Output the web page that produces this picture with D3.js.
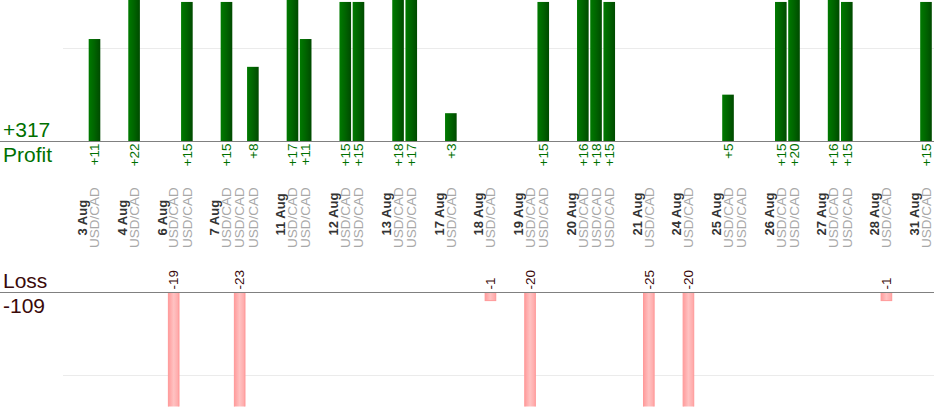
<!DOCTYPE html>
<html><head><meta charset="utf-8">
<script src="https://cdn.jsdelivr.net/npm/d3@7/dist/d3.min.js"></script>
<style>
html,body{margin:0;padding:0;background:#fff;overflow:hidden}
svg{display:block;font-family:"Liberation Sans",Arial,sans-serif}
</style></head>
<body>
<svg id="c" width="934" height="420"></svg>
<script>
// ---- data ----
const dates = ["3 Aug","4 Aug","6 Aug","7 Aug","11 Aug","12 Aug","13 Aug","17 Aug","18 Aug","19 Aug","20 Aug","21 Aug","24 Aug","25 Aug","26 Aug","27 Aug","28 Aug","31 Aug"];
const tradeDate = ["3 Aug","4 Aug","6 Aug","6 Aug","7 Aug","7 Aug","7 Aug","11 Aug","11 Aug","12 Aug","12 Aug","13 Aug","13 Aug","17 Aug","18 Aug","19 Aug","19 Aug","20 Aug","20 Aug","20 Aug","21 Aug","24 Aug","25 Aug","25 Aug","26 Aug","26 Aug","27 Aug","27 Aug","28 Aug","31 Aug"];
const tradeValue = [11,22,-19,15,15,-23,8,17,11,15,15,18,17,3,-1,-20,15,16,18,15,-25,-20,5,0,15,20,16,15,-1,15];
const tradeSymbol = tradeDate.map(() => "USD/CAD");
const profitGridTicks = [10];
const lossGridTicks = [10];
const profitLabel = "Profit", lossLabel = "Loss";

// ---- derived ----
const totalProfit = d3.sum(tradeValue.filter(v => v > 0));
const totalLoss = d3.sum(tradeValue.filter(v => v < 0));

const slots = [{type:"gap", key:"g0"}];
dates.forEach((d, di) => {
  if (di > 0) slots.push({type:"gap", key:"g" + d});
  slots.push({type:"date", key:"d" + d, label:d});
  tradeDate.forEach((td, ti) => {
    if (td === d) slots.push({type:"trade", key:"t" + ti, value:tradeValue[ti], symbol:tradeSymbol[ti]});
  });
});

const svg = d3.select("#c");
const W = 934;
const x = d3.scaleBand().domain(slots.map(s => s.key)).range([61.5, 932.6]).paddingInner(0.12).paddingOuter(0.06);
const cx = k => x(k) + x.bandwidth() / 2;

const yP = d3.scaleLinear().domain([0, 10]).range([141, 48.3]);
const yL = d3.scaleLinear().domain([0, 10]).range([292.3, 375.3]);

// gradients
const defs = svg.append("defs");
const gG = defs.append("linearGradient").attr("id","gGreen").attr("x1","0").attr("x2","1").attr("y1","0").attr("y2","0");
gG.append("stop").attr("offset","0").attr("stop-color","#007a00");
gG.append("stop").attr("offset","0.5").attr("stop-color","#006400");
gG.append("stop").attr("offset","1").attr("stop-color","#004a00");
const gR = defs.append("linearGradient").attr("id","gRed").attr("x1","0").attr("x2","1").attr("y1","0").attr("y2","0");
gR.append("stop").attr("offset","0").attr("stop-color","#ff9c9c");
gR.append("stop").attr("offset","0.5").attr("stop-color","#ffc2c2");
gR.append("stop").attr("offset","1").attr("stop-color","#ffa6a6");
defs.append("clipPath").attr("id","clipL").append("rect").attr("x",0).attr("y",yL(0)).attr("width",W).attr("height",406.5 - yL(0));

// grid lines
svg.append("g").selectAll("line").data(profitGridTicks).join("line")
  .attr("x1", 63).attr("x2", W).attr("y1", d => Math.round(yP(d)) + 0.5).attr("y2", d => Math.round(yP(d)) + 0.5)
  .attr("stroke", "#ebebeb").attr("stroke-width", 1);
svg.append("g").selectAll("line").data(lossGridTicks).join("line")
  .attr("x1", 63).attr("x2", W).attr("y1", d => Math.round(yL(d)) + 0.5).attr("y2", d => Math.round(yL(d)) + 0.5)
  .attr("stroke", "#ebebeb").attr("stroke-width", 1);

const trades = slots.filter(s => s.type === "trade");
const wins = trades.filter(s => s.value > 0);
const losses = trades.filter(s => s.value < 0);

// profit bars
svg.append("g").selectAll("rect").data(wins).join("rect")
  .attr("x", d => x(d.key)).attr("width", x.bandwidth())
  .attr("y", d => yP(d.value)).attr("height", d => yP(0) - yP(d.value))
  .attr("fill", "url(#gGreen)");

// loss bars
svg.append("g").attr("clip-path","url(#clipL)").selectAll("rect").data(losses).join("rect")
  .attr("x", d => x(d.key) + 0.5).attr("width", x.bandwidth() - 1)
  .attr("y", yL(0)).attr("height", d => yL(-d.value) - yL(0))
  .attr("fill", "url(#gRed)").attr("stroke", "#ff9999").attr("stroke-width", 1);

// baselines
svg.append("line").attr("x1",0).attr("x2",W).attr("y1",141.5).attr("y2",141.5).attr("stroke","#808080");
svg.append("line").attr("x1",0).attr("x2",W).attr("y1",292.5).attr("y2",292.5).attr("stroke","#808080");

// profit value labels
svg.append("g").selectAll("text").data(wins).join("text")
  .attr("transform", d => `translate(${cx(d.key)},143.5) rotate(-90)`)
  .attr("text-anchor","end").attr("dy","0.35em")
  .attr("font-size",13.5).attr("fill","#007000")
  .text(d => "+" + d.value);

// loss value labels
svg.append("g").selectAll("text").data(losses).join("text")
  .attr("transform", d => `translate(${cx(d.key)},289.5) rotate(-90)`)
  .attr("text-anchor","start").attr("dy","0.35em")
  .attr("font-size",13.5).attr("fill","#3a0a0a")
  .text(d => d.value);

// date labels
svg.append("g").selectAll("text").data(slots.filter(s => s.type === "date")).join("text")
  .attr("transform", d => `translate(${cx(d.key)+1.5},235.5) rotate(-90)`)
  .attr("text-anchor","start").attr("dy","0.35em")
  .attr("font-size",13).attr("font-weight","bold").attr("fill","#333")
  .text(d => d.label);

// symbol labels
svg.append("g").selectAll("text").data(trades).join("text")
  .attr("transform", d => `translate(${cx(d.key)},248) rotate(-90)`)
  .attr("text-anchor","start").attr("dy","0.35em")
  .attr("font-size",13.5).attr("fill","#a8a8a8")
  .text(d => d.symbol);

// left titles
svg.append("text").attr("x",3).attr("y",137).attr("font-size",21).attr("fill","#007000").text("+" + totalProfit);
svg.append("text").attr("x",3).attr("y",162).attr("font-size",21).attr("fill","#007000").text(profitLabel);
svg.append("text").attr("x",3).attr("y",288).attr("font-size",21).attr("fill","#3a0a0a").text(lossLabel);
svg.append("text").attr("x",3).attr("y",313).attr("font-size",21).attr("fill","#3a0a0a").text(totalLoss);
</script>
</body></html>
